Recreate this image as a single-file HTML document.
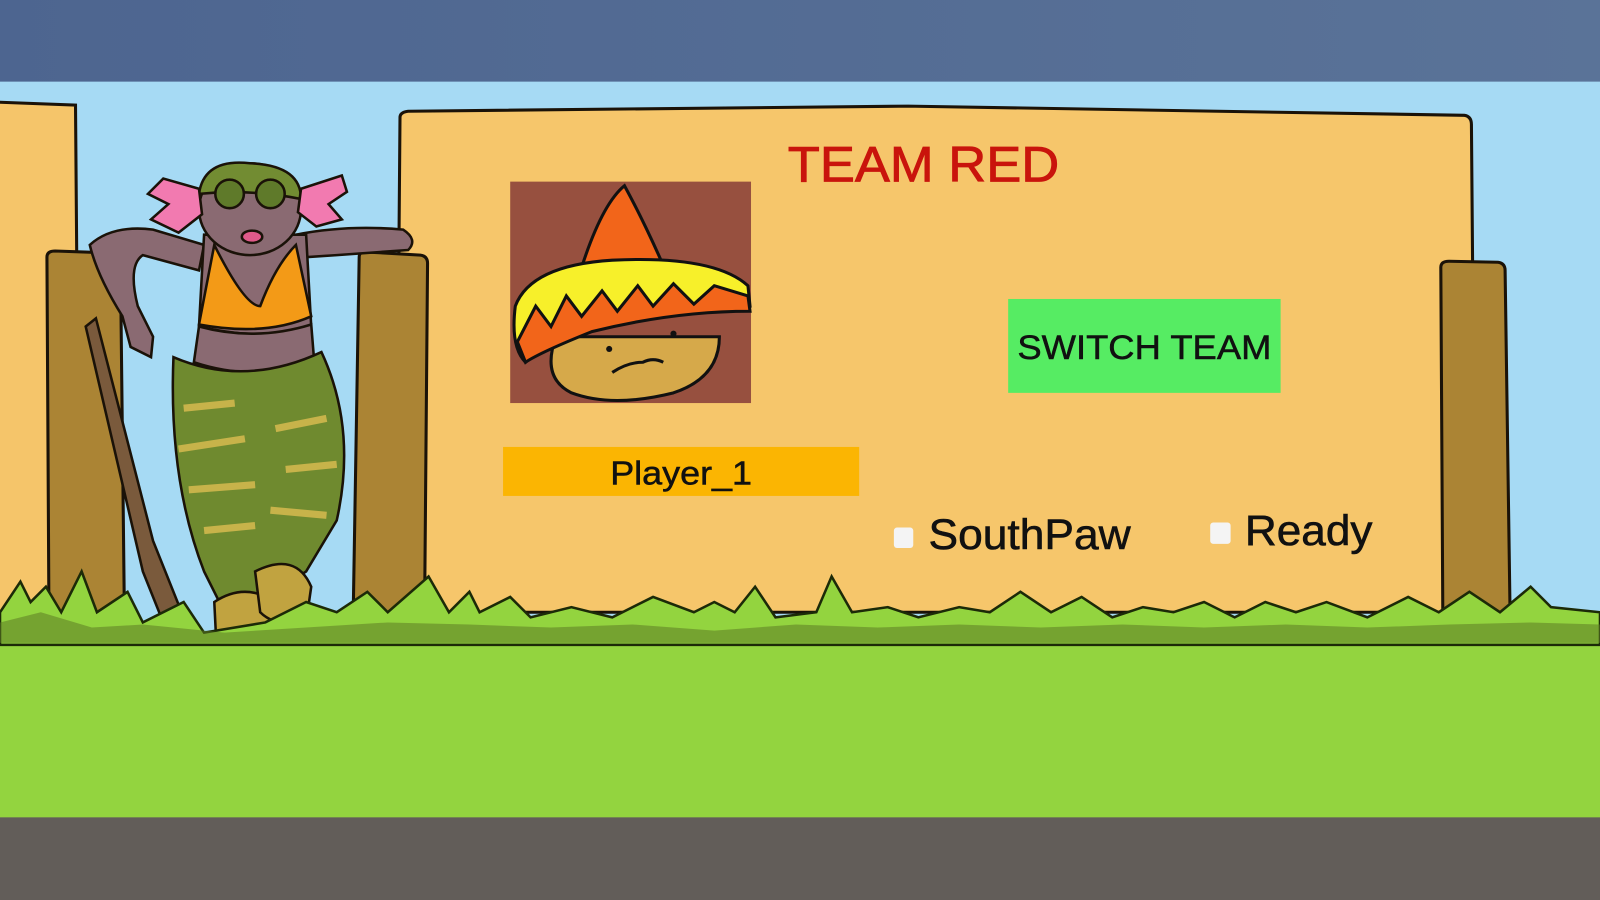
<!DOCTYPE html>
<html><head><meta charset="utf-8"><style>
html,body{margin:0;padding:0;width:1600px;height:900px;overflow:hidden;background:#a6daf4}
svg{display:block}
text{font-family:"Liberation Sans",Arial,sans-serif}
</style></head><body>
<svg width="1600" height="900" viewBox="0 0 1568 882" preserveAspectRatio="none">
<defs>
<linearGradient id="top" x1="0" x2="1" y1="0" y2="0">
<stop offset="0" stop-color="#4d6590"/><stop offset="1" stop-color="#5a7398"/></linearGradient>
</defs>
<rect x="0" y="0" width="1568" height="882" fill="#a6daf4"/>
<rect x="0" y="0" width="1568" height="80" fill="url(#top)"/>
<path d="M-5 100 L74 103 L78 600 L-5 600 Z" fill="#f5c56a" stroke="#1a1208" stroke-width="3"/>
<path d="M392 115 Q392 110 400 109 L890 104 L1435 113 Q1442 114 1442 122 L1446 600 L388 600 Z" fill="#f6c66b" stroke="#1a1208" stroke-width="3"/>
<path d="M46 252 Q46 246 54 246 L112 248 Q118 249 118 256 L122 610 L48 610 Z" fill="#ab8434" stroke="#1a1208" stroke-width="3"/>
<path d="M352 252 Q352 246 360 247 L412 250 Q419 251 419 258 L416 610 L346 610 Z" fill="#ab8434" stroke="#1a1208" stroke-width="3"/>
<path d="M1412 262 Q1412 256 1420 256 L1468 257 Q1475 258 1475 265 L1480 610 L1414 610 Z" fill="#ab8434" stroke="#1a1208" stroke-width="3"/>
<g stroke="#1a1208" stroke-width="2.5">
<path d="M84 320 L94 312 L150 530 L178 600 L162 615 L140 560 Z" fill="#7a5a3c"/>
<path d="M88 240 Q110 220 150 225 L200 240 L195 265 L140 250 Q125 260 135 300 L150 330 L148 350 L128 340 L120 310 Q95 270 88 240 Z" fill="#8a6a72"/>
<path d="M290 230 Q340 220 395 225 Q410 235 400 245 L330 250 L300 252 Z" fill="#8a6a72"/>
<path d="M200 230 L300 230 L305 320 Q260 335 195 320 Z" fill="#8a6a72"/>
<path d="M210 240 Q240 300 255 300 Q270 260 290 240 L305 310 Q260 330 195 318 Z" fill="#f39a17"/>
<path d="M195 320 Q250 335 305 318 L308 355 Q250 375 190 355 Z" fill="#8a6a72"/>
<path d="M170 350 Q240 380 315 345 Q350 420 330 510 L300 560 L270 580 L255 600 L225 610 L200 560 Q165 470 170 350 Z" fill="#6f8a2f"/>
<path d="M180 400 L230 395 M175 440 L240 430 M185 480 L250 475 M270 420 L320 410 M280 460 L330 455 M265 500 L320 505 M200 520 L250 515" stroke="#c7b34a" stroke-width="7"/>
<path d="M210 590 Q240 570 270 590 L272 630 Q240 645 212 630 Z" fill="#c1a340"/>
<path d="M250 560 Q290 540 305 575 L300 610 Q270 615 255 600 Z" fill="#c1a340"/>
<ellipse cx="245" cy="205" rx="50" ry="45" fill="#8a6a72"/>
<path d="M195 190 Q200 155 245 160 Q295 162 295 195 Q245 185 195 190 Z" fill="#728c32"/>
<circle cx="225" cy="190" r="14" fill="#5f7a2a"/><circle cx="265" cy="190" r="14" fill="#5f7a2a"/>
<path d="M195 185 L160 175 L145 190 L165 200 L148 215 L175 228 L198 210 Z" fill="#f27ab0"/>
<path d="M295 185 L335 172 L340 188 L322 200 L335 215 L310 222 L292 208 Z" fill="#f27ab0"/>
<ellipse cx="247" cy="232" rx="10" ry="6" fill="#e05a8a"/>
</g>
<rect x="0" y="628" width="1568" height="175" fill="#93d43f"/>
<path d="M0 600 L20 570 L30 590 L45 575 L60 600 L80 560 L95 600 L125 580 L140 610 L180 590 L200 620 L260 610 L300 590 L330 600 L360 580 L380 600 L420 565 L440 600 L460 580 L470 600 L500 585 L520 605 L560 595 L600 605 L640 585 L680 600 L700 590 L720 600 L740 575 L760 605 L800 600 L815 565 L835 600 L870 595 L900 605 L940 595 L970 600 L1000 580 L1030 600 L1060 585 L1090 605 L1120 595 L1150 600 L1180 590 L1210 605 L1240 590 L1270 600 L1300 590 L1340 605 L1380 585 L1410 600 L1440 580 L1470 600 L1500 575 L1520 595 L1568 600 L1568 632 L0 632 Z" fill="#93d43f" stroke="#1c2a08" stroke-width="2.5"/>
<path d="M0 610 L40 600 L90 615 L140 612 L220 620 L300 615 L380 610 L460 612 L540 615 L620 612 L700 618 L780 612 L860 615 L940 612 L1020 615 L1100 612 L1180 615 L1260 612 L1340 615 L1420 612 L1500 610 L1568 612 L1568 630 L0 630 Z" fill="#5d7a24" opacity="0.55"/>
<rect x="0" y="801" width="1568" height="81" fill="#625d59"/>
<text x="772" y="178" font-size="49" fill="#c9140c" textLength="266" lengthAdjust="spacingAndGlyphs" stroke="#c9140c" stroke-width="0.8">TEAM RED</text>
<rect x="500" y="178" width="236" height="217" fill="#97503f"/>
<g stroke="#111" stroke-width="3">
<path d="M570 262 Q590 200 612 182 Q630 215 650 260 Z" fill="#f2651a"/>
<path d="M545 330 Q530 370 560 385 Q600 400 660 385 Q705 370 705 330 Z" fill="#d6a94a"/>
<path d="M505 300 Q520 260 600 255 Q700 250 733 280 L735 300 Q660 300 580 320 Q530 340 515 355 Q500 340 505 300 Z" fill="#f7f02a"/>
<path d="M507 335 L525 300 L540 320 L555 290 L570 310 L590 285 L605 305 L625 280 L640 300 L660 278 L680 298 L700 280 L733 290 L735 305 Q660 305 580 325 Q530 345 515 355 Z" fill="#f2651a"/>
</g>
<circle cx="597" cy="342" r="3" fill="#111"/><circle cx="660" cy="327" r="3" fill="#111"/>
<path d="M600 365 Q615 355 630 355 Q640 350 650 355" stroke="#111" stroke-width="3" fill="none"/>
<rect x="493" y="438" width="349" height="48" fill="#fbb502"/>
<text x="598" y="475" font-size="33" fill="#111" textLength="139" lengthAdjust="spacingAndGlyphs" stroke="#111" stroke-width="0.5">Player_1</text>
<rect x="988" y="293" width="267" height="92" fill="#56ec63"/>
<text x="997" y="352" font-size="34" fill="#111" textLength="249" lengthAdjust="spacingAndGlyphs" stroke="#111" stroke-width="0.5">SWITCH TEAM</text>
<rect x="876" y="517" width="19" height="20" rx="3" fill="#f4f4f4"/>
<text x="910" y="538" font-size="42" fill="#111" textLength="198" lengthAdjust="spacingAndGlyphs" stroke="#111" stroke-width="0.6">SouthPaw</text>
<rect x="1186" y="512" width="20" height="21" rx="3" fill="#f4f4f4"/>
<text x="1220" y="534" font-size="42" fill="#111" textLength="125" lengthAdjust="spacingAndGlyphs" stroke="#111" stroke-width="0.6">Ready</text>
</svg>
</body></html>
